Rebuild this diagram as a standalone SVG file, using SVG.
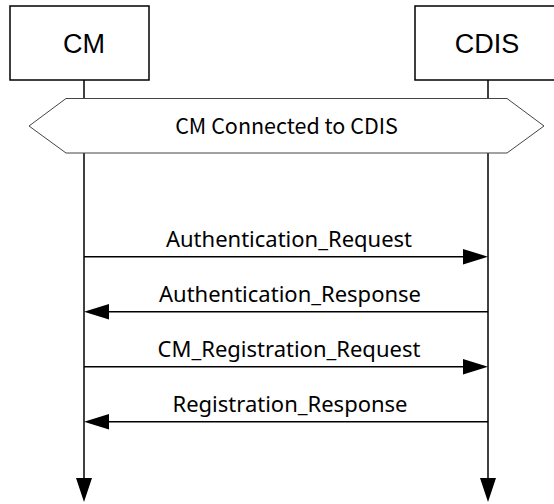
<svg xmlns="http://www.w3.org/2000/svg" width="554" height="504" viewBox="0 0 554 504">
  <defs>
    <style>
      .box { fill: #fff; stroke: #000; stroke-width: 1.5; }
      .life { stroke: #000; stroke-width: 1.5; fill: none; }
      .msg { stroke: #000; stroke-width: 1.6; fill: none; }
      .head { fill: #000; stroke: none; }
      .title { font-family: "Liberation Sans", Arial, sans-serif; font-size: 27px; fill: #000; text-anchor: middle; }
      .lbl { font-family: "Noto Sans", "Open Sans", sans-serif; font-size: 22px; fill: #000; text-anchor: middle; }
      .state { font-family: "Noto Sans CJK JP", "Noto Sans", sans-serif; font-size: 21.5px; fill: #000; text-anchor: middle; }
      .hex { fill: #fff; stroke: #444; stroke-width: 1; }
    </style>
  </defs>
  <rect width="554" height="504" fill="#fff"/>

  <g id="connectors">
    <line class="life" x1="84" y1="80" x2="84" y2="480"/>
    <polygon class="head" points="76,478 92,478 84,502"/>
    <line class="life" x1="488" y1="80" x2="488" y2="480"/>
    <polygon class="head" points="480,478 496,478 488,502"/>

    <g id="msg1">
      <line class="msg" x1="84" y1="256.7" x2="466" y2="256.7"/>
      <polygon class="head" points="463,249 488,256.7 463,264.4"/>
      <text class="lbl" x="289" y="246.5">Authentication_Request</text>
    </g>
    <g id="msg2">
      <line class="msg" x1="488" y1="311.7" x2="106" y2="311.7" stroke-width="2"/>
      <polygon class="head" points="109,304 84,311.7 109,319.4"/>
      <text class="lbl" x="290" y="301.5">Authentication_Response</text>
    </g>
    <g id="msg3">
      <line class="msg" x1="84" y1="366.7" x2="466" y2="366.7"/>
      <polygon class="head" points="463,359 488,366.7 463,374.4"/>
      <text class="lbl" x="289" y="356.5">CM_Registration_Request</text>
    </g>
    <g id="msg4">
      <line class="msg" x1="488" y1="421.7" x2="106" y2="421.7" stroke-width="2"/>
      <polygon class="head" points="109,414 84,421.7 109,429.4"/>
      <text class="lbl" x="290" y="411.5">Registration_Response</text>
    </g>
  </g>

  <g id="node-cm">
    <rect class="box" x="10" y="6" width="139" height="74"/>
    <text class="title" x="84" y="53">CM</text>
  </g>

  <g id="node-cdis">
    <rect class="box" x="415" y="6" width="150" height="74"/>
    <text class="title" x="487" y="53">CDIS</text>
  </g>

  <g id="state-connected">
    <polygon class="hex" points="29,126 66,98.5 507,98.5 544,126 507,153 66,153"/>
    <text class="state" x="286.5" y="133.5">CM Connected to CDIS</text>
  </g>
</svg>
